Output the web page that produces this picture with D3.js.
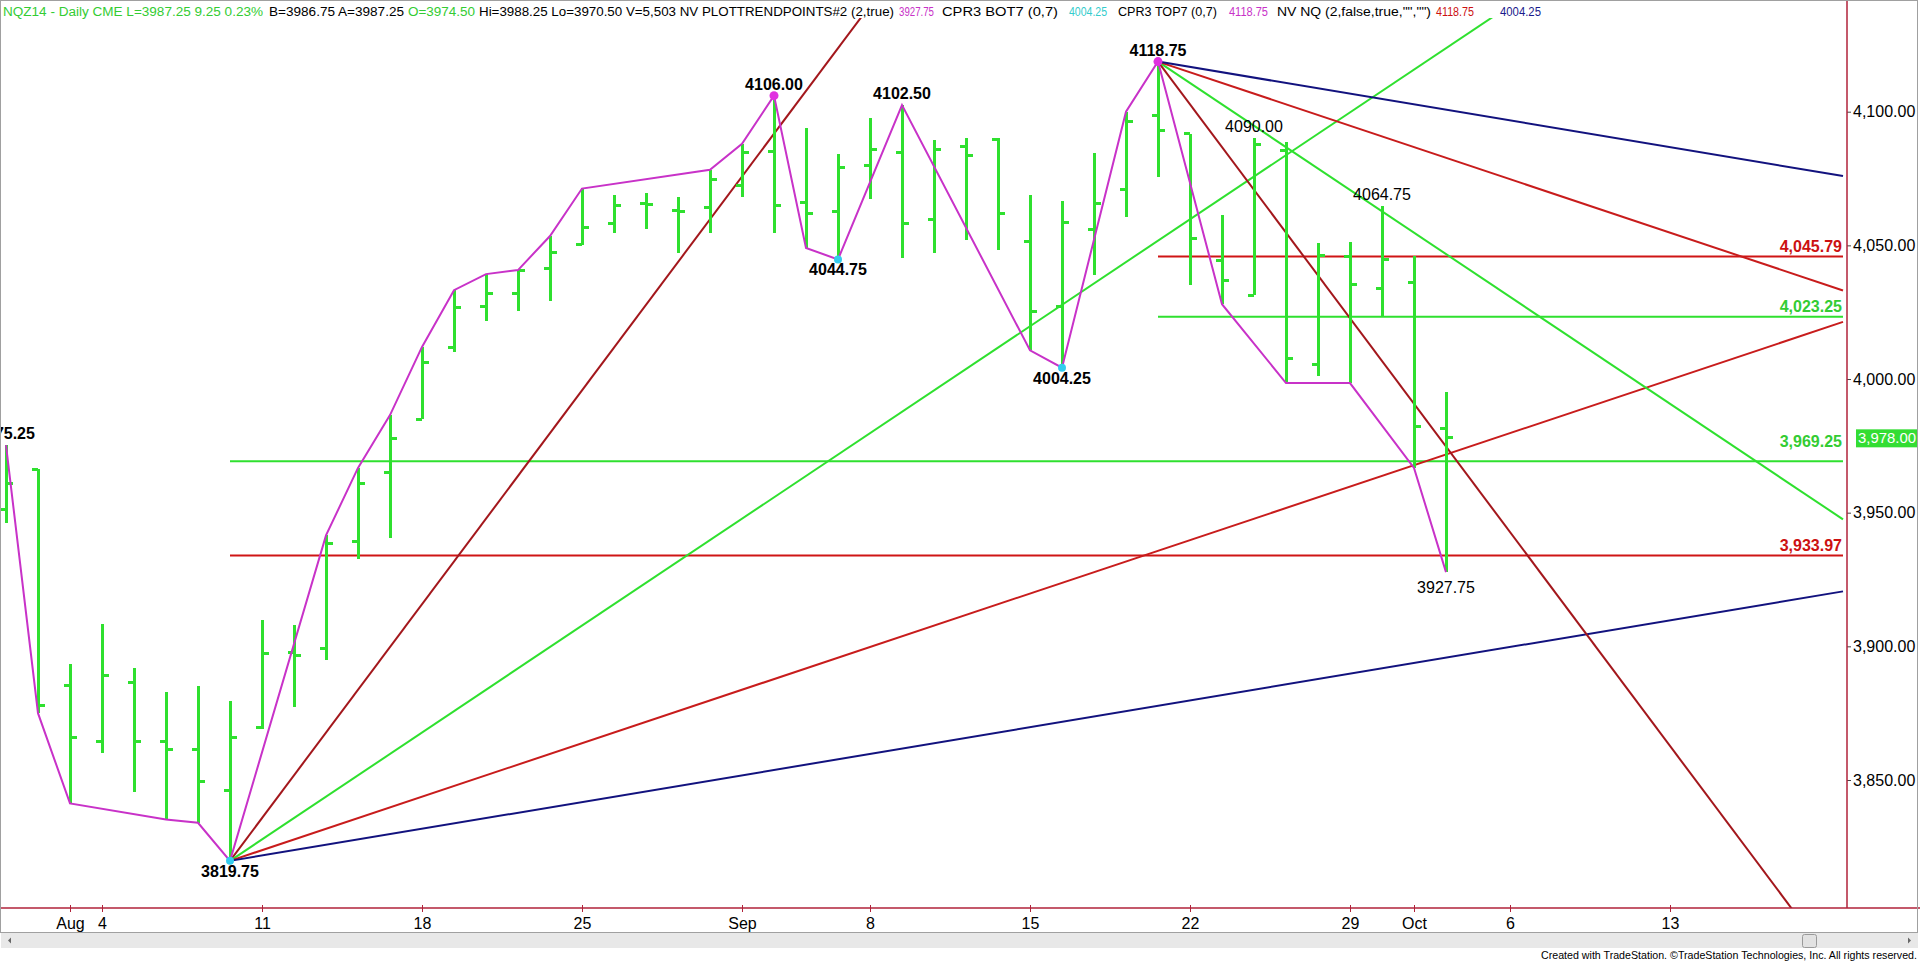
<!DOCTYPE html>
<meta charset="utf-8">
<head>
<meta charset="utf-8">
<title>NQZ14 daily</title>
<style>
body { margin: 0; background: #fff; }
svg { display: block; font-family: "Liberation Sans", Arial, sans-serif; }
.axis text { font-size: 16px; fill: #000; }
.axis .domain { display: none; }
</style>
</head>
<body>
<svg width="1920" height="964"></svg>
<script src="https://d3js.org/d3.v7.min.js"></script>
<script>

// daily bars, Jul 30 .. Oct 2 2014 (index = trading day)
var dates = ["07-30","07-31","08-01","08-04","08-05","08-06","08-07","08-08","08-11","08-12",
  "08-13","08-14","08-15","08-18","08-19","08-20","08-21","08-22","08-25","08-26",
  "08-27","08-28","08-29","09-02","09-03","09-04","09-05","09-08","09-09","09-10",
  "09-11","09-12","09-15","09-16","09-17","09-18","09-19","09-22","09-23","09-24",
  "09-25","09-26","09-29","09-30","10-01","10-02"];
var open  = [3951.25,3966.25,3885.25,3864.25,3886.5,3864.5,3861.5,3846.25,3869.5,3897.75,
  3899.25,3939.25,3965,3985,4011.75,4027,4032,4041.5,4050.5,4058,
  4065.75,4063,4064,4072.25,4085.25,4066,4062.5,4079.75,4084.75,4059.75,
  4087,4089.75,4051.5,4027,4056,4071,4098.75,4091.75,4044.5,4031.25,
  4085.5,4005.25,4046,4034,4036.25,3981.5];
var high  = [3975.25,3966.25,3893.25,3908.25,3892,3883,3885.25,3879.5,3910,3908,
  3941.5,3966.75,3986.5,4012,4033.25,4039.25,4040.75,4053.5,4071.25,4068.75,
  4069.75,4068.25,4078.25,4088,4106,4093.75,4084,4097.5,4102.5,4089.5,
  4090,4090,4068.75,4066.75,4084.5,4100,4118.75,4091.75,4061.5,4090,
  4088.75,4050.75,4051.25,4064.75,4046,3995.25];
var low   = [3946,3875,3841.25,3860.25,3845.5,3835.25,3834,3819.75,3869.25,3877.25,
  3894.75,3932.5,3940.5,3985,4010.25,4021.75,4025.5,4029.25,4050,4054.5,
  4056,4047,4054.5,4068.25,4054.75,4049,4044.75,4067.25,4045.25,4047,
  4052,4048.25,4010.75,4004.25,4039,4060.5,4075.5,4035.25,4028,4031.25,
  3998.5,4001.25,3998.5,4023.25,3966.75,3927.75];
var close = [3961,3877.75,3866,3889,3864.25,3861.25,3849.5,3866,3897.5,3896.5,
  3938.5,3960.75,3977.75,4006,4026.75,4032,4040.5,4047.5,4056.5,4065,
  4065.25,4062.5,4074.75,4084.75,4064.75,4061.75,4079.25,4085.75,4058.25,4085.75,
  4083.5,4062,4025.25,4058.5,4065.5,4096.5,4093,4052.75,4037,4087.75,
  4007.5,4046.25,4035.5,4044.75,3982.25,3978];

// swing line (PLOTTRENDPOINTS): bar index + which end of the bar
var swingIdx  = [0,1,2,5,6,7,10,11,12,13,14,15,16,17,18,22,23,24,25,26,28,32,33,35,36,38,40,42,44,45];
var swingSide = "HLLLLLHHHHHHHHHHHHLLHLLHHLLLLL";

// pivot labels
var pivotIdx  = [0,7,24,26,28,33,36,39,43,45];
var pivotSide = "HLHLHLHHHL";
var pivotBold = [1,1,1,1,1,1,1,0,0,0];
var highDots = [24,36];
var lowDots  = [7,26,33];

// speed lines from the Aug 8 low and the Sep 19 high (points per bar)
var fanIdx   = [7,36];
var fanPrice = [3819.75,4118.75];
var fanDir   = [1,-1];
var fanRates = [16,8,4,2];

// horizontal levels
var levels     = [4045.79,4023.25,3969.25,3933.97];
var levelStart = [36,36,7,7];

// axes
var xTickIdx    = [2,3,8,13,18,23,27,32,37,42,44,47,52];
var xTickLabels = ["Aug","4","11","18","25","Sep","8","15","22","29","Oct","6","13"];
var yTicks      = [3850,3900,3950,4000,4050,4100];
var lastPrice   = 3978.00;

var headerText = ["NQZ14 - Daily  CME  L=3987.25  9.25  0.23%","B=3986.75  A=3987.25","O=3974.50",
  "Hi=3988.25  Lo=3970.50  V=5,503  NV  PLOTTRENDPOINTS#2 (2,true)","3927.75","CPR3 BOT7 (0,7)",
  "4004.25","CPR3 TOP7 (0,7)","4118.75","NV NQ (2,false,true,\"\",\"\")","4118.75","4004.25"];

// ---- styles / layout ----
var GREEN = "#2fe02f", MAGENTA = "#c832c8", CYAN = "#33ccee", AXIS = "#b0223a";
var fanColors   = ["#a3171c", GREEN, "#c81c1c", "#12127e"];
var levelColors = ["#cf1515", GREEN, GREEN, "#cf1515"];
var levelLabelColors = ["#cc1111", "#33cc33", "#33cc33", "#cc1111"];
var levelLabelDy = [-5, -5, -14, -5];
var headerColors = ["#33cc33","#000","#33cc33","#000",MAGENTA,"#000","#33cccc","#000",MAGENTA,"#000","#cc1111","#1a1a8c"];
var headerPos = [[3,263],[269,404],[408,475],[479,894],[899,934],[942,1058],[1069,1107],
  [1118,1217],[1229,1268],[1277,1431],[1436,1474],[1500,1541]];

var svg = d3.select("svg"),
    plot = {left: 0, right: 1847, top: 18, bottom: 908};

var x = d3.scaleLinear().domain([0, 52]).range([6, 1670]);
var y = d3.scaleLinear().domain([3850, 4100]).range([780, 111.7]);

svg.append("rect").attr("width", 1920).attr("height", 964).attr("fill", "#fff");

svg.append("clipPath").attr("id", "clip")
  .append("rect")
    .attr("x", plot.left).attr("y", plot.top)
    .attr("width", plot.right - plot.left).attr("height", plot.bottom - plot.top);

var g = svg.append("g").attr("clip-path", "url(#clip)");

// horizontal levels
levels.forEach(function(p, k) {
  g.append("line")
    .attr("x1", x(levelStart[k])).attr("x2", plot.right - 4)
    .attr("y1", y(p)).attr("y2", y(p))
    .attr("stroke", levelColors[k]).attr("stroke-width", 2);
});

// speed lines
var endIdx = x.invert(plot.right - 4);
fanIdx.forEach(function(i0, a) {
  fanRates.forEach(function(r, k) {
    g.append("line")
      .attr("x1", x(i0)).attr("y1", y(fanPrice[a]))
      .attr("x2", x(endIdx)).attr("y2", y(fanPrice[a] + fanDir[a] * r * (endIdx - i0)))
      .attr("stroke", fanColors[k]).attr("stroke-width", 2);
  });
});

// OHLC bars
var bars = g.append("g").attr("stroke", GREEN).attr("shape-rendering", "crispEdges")
  .selectAll("g").data(dates).enter().append("g");
bars.append("line")
  .attr("x1", function(d, i) { return x(i); }).attr("x2", function(d, i) { return x(i); })
  .attr("y1", function(d, i) { return y(high[i]); }).attr("y2", function(d, i) { return y(low[i]); })
  .attr("stroke-width", 3);
bars.append("line")
  .attr("x1", function(d, i) { return x(i) - 6; }).attr("x2", function(d, i) { return x(i); })
  .attr("y1", function(d, i) { return y(open[i]); }).attr("y2", function(d, i) { return y(open[i]); })
  .attr("stroke-width", 3);
bars.append("line")
  .attr("x1", function(d, i) { return x(i); }).attr("x2", function(d, i) { return x(i) + 7; })
  .attr("y1", function(d, i) { return y(close[i]); }).attr("y2", function(d, i) { return y(close[i]); })
  .attr("stroke-width", 3);

// swing line
var swing = d3.line()
  .x(function(d) { return x(d); })
  .y(function(d, k) { return y(swingSide[k] == "H" ? high[d] : low[d]); });
g.append("path").datum(swingIdx)
  .attr("d", swing).attr("fill", "none")
  .attr("stroke", MAGENTA).attr("stroke-width", 2);

g.selectAll(".hd").data(highDots).enter().append("circle")
  .attr("cx", function(d) { return x(d); }).attr("cy", function(d) { return y(high[d]); })
  .attr("r", 4.5).attr("fill", "#e030e0");
g.selectAll(".ld").data(lowDots).enter().append("circle")
  .attr("cx", function(d) { return x(d); }).attr("cy", function(d) { return y(low[d]); })
  .attr("r", 4).attr("fill", CYAN);

// pivot labels
g.selectAll(".pv").data(pivotIdx).enter().append("text")
  .attr("x", function(d) { return x(d); })
  .attr("y", function(d, k) {
    if (pivotSide[k] == "H") return y(high[d]) - 6;
    return y(low[d]) + (pivotBold[k] ? 16 : 21);
  })
  .attr("text-anchor", "middle")
  .attr("font-size", 16)
  .attr("font-weight", function(d, k) { return pivotBold[k] ? "bold" : "normal"; })
  .attr("fill", "#000")
  .text(function(d, k) { return d3.format(".2f")(pivotSide[k] == "H" ? high[d] : low[d]); });

// level labels
g.selectAll(".lv").data(levels).enter().append("text")
  .attr("x", plot.right - 5)
  .attr("y", function(d, k) { return y(d) + levelLabelDy[k]; })
  .attr("text-anchor", "end")
  .attr("font-size", 16).attr("font-weight", "bold")
  .attr("fill", function(d, k) { return levelLabelColors[k]; })
  .text(d3.format(",.2f"));

// x axis
var xAxis = svg.append("g").attr("class", "axis")
  .attr("transform", "translate(0,905)")
  .call(d3.axisBottom(x).tickValues(xTickIdx)
    .tickFormat(function(d, k) { return xTickLabels[k]; })
    .tickSize(7).tickPadding(6));
xAxis.selectAll(".tick line").attr("stroke", AXIS);

// y axis
var yAxis = svg.append("g").attr("class", "axis")
  .attr("transform", "translate(" + plot.right + ",0)")
  .call(d3.axisRight(y).tickValues(yTicks).tickFormat(d3.format(",.2f")).tickSize(4).tickPadding(2));
yAxis.selectAll(".tick line").attr("stroke", "#444");

svg.append("line").attr("x1", 0).attr("x2", 1920).attr("y1", plot.bottom).attr("y2", plot.bottom)
  .attr("stroke", AXIS).attr("stroke-width", 1.5);
svg.append("line").attr("x1", plot.right).attr("x2", plot.right).attr("y1", 0).attr("y2", plot.bottom)
  .attr("stroke", AXIS).attr("stroke-width", 1.5);

// last price marker
svg.append("rect").attr("x", 1856).attr("y", y(lastPrice) - 8.5)
  .attr("width", 62).attr("height", 18).attr("fill", "#33dd33");
svg.append("text").attr("x", 1858).attr("y", y(lastPrice)).attr("dy", "0.35em")
  .attr("font-size", 15).attr("fill", "#fff")
  .attr("textLength", 58).attr("lengthAdjust", "spacingAndGlyphs")
  .text(d3.format(",.2f")(lastPrice));

// header
svg.append("g").selectAll("text").data(headerText).enter().append("text")
  .attr("x", function(d, k) { return headerPos[k][0]; })
  .attr("y", 15.5)
  .attr("font-size", 12)
  .attr("textLength", function(d, k) { return headerPos[k][1] - headerPos[k][0]; })
  .attr("lengthAdjust", "spacingAndGlyphs")
  .attr("fill", function(d, k) { return headerColors[k]; })
  .text(function(d) { return d; });

// scroll bar
svg.append("rect").attr("x", 1).attr("y", 933).attr("width", 1917).attr("height", 15).attr("fill", "#e8e8e8");
svg.append("rect").attr("x", 1802.5).attr("y", 934.5).attr("width", 14).attr("height", 13).attr("rx", 2)
  .attr("fill", "#e2e2e2").attr("stroke", "#9a9a9a");
svg.append("path").attr("d", "M11,937.5 L8,940.5 L11,943.5 Z").attr("fill", "#666");
svg.append("path").attr("d", "M1908,937.5 L1911,940.5 L1908,943.5 Z").attr("fill", "#666");

svg.append("text").attr("x", 1541).attr("y", 959)
  .attr("font-size", 11.5).attr("fill", "#000")
  .attr("textLength", 376).attr("lengthAdjust", "spacingAndGlyphs")
  .text("Created with TradeStation. \u00a9TradeStation Technologies, Inc. All rights reserved.");

// frame
svg.append("rect").attr("x", 0.5).attr("y", 0.5).attr("width", 1917).attr("height", 932)
  .attr("fill", "none").attr("stroke", "#a0a0a0");

</script>
</body>
</html>
